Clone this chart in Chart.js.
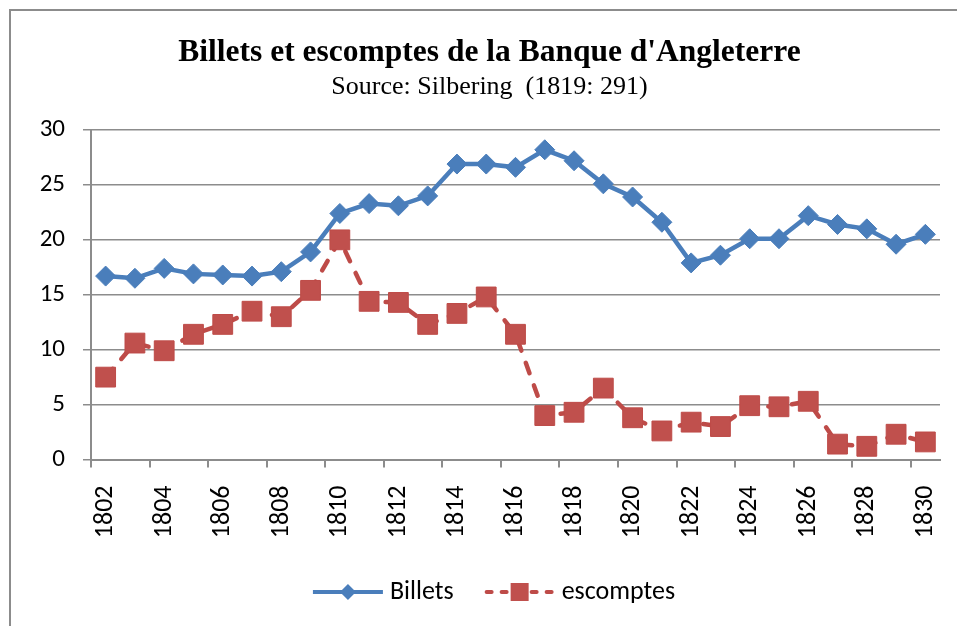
<!DOCTYPE html>
<html lang="fr">
<head>
<meta charset="utf-8">
<title>Billets et escomptes de la Banque d'Angleterre</title>
<script src="https://cdn.jsdelivr.net/npm/chart.js@4.4.1/dist/chart.umd.min.js"></script>
<style>
  html, body { margin: 0; padding: 0; background: #fff; overflow: hidden; }
  #cadre {
    position: absolute; left: 9px; top: 9px; width: 1000px; height: 700px;
    border-left: 2px solid #8c8c8c; border-top: 2px solid #8c8c8c;
  }
  #graphique { position: absolute; left: 0; top: 0; }
</style>
</head>
<body>
<div id="cadre"></div>
<canvas id="graphique" width="957" height="626"></canvas>
<script>
// Données (millions de livres)
const annees = ['1802', '1803', '1804', '1805', '1806', '1807', '1808', '1809', '1810', '1811',
                '1812', '1813', '1814', '1815', '1816', '1817', '1818', '1819', '1820', '1821',
                '1822', '1823', '1824', '1825', '1826', '1827', '1828', '1829', '1830'];

const billets = [16.7, 16.5, 17.4, 16.9, 16.8, 16.7, 17.1, 18.9, 22.4, 23.3,
                 23.1, 24.0, 26.9, 26.9, 26.6, 28.2, 27.2, 25.1, 23.9, 21.6,
                 17.9, 18.6, 20.1, 20.1, 22.2, 21.4, 21.0, 19.6, 20.5];

const escomptes = [7.5, 10.6, 9.9, 11.4, 12.3, 13.5, 13.0, 15.4, 20.0, 14.4,
                   14.3, 12.3, 13.3, 14.8, 11.4, 4.0, 4.3, 6.5, 3.8, 2.6,
                   3.4, 3.0, 4.9, 4.8, 5.3, 1.4, 1.2, 2.3, 1.6];

const etiquettesX = ['1802', '1804', '1806', '1808', '1810', '1812', '1814', '1816',
                     '1818', '1820', '1822', '1824', '1826', '1828', '1830'];
const graduationsY = [0, 5, 10, 15, 20, 25, 30];

const bleu = '#4A7EBB';
const rouge = '#BE4B48';
const gris = '#8c8c8c';
const policeTexte = 'Carlito, Lato, sans-serif';

// Légende dessinée à la main (trait + marqueur comme dans Excel)
const legendeMaison = {
    id: 'legendeMaison',
    afterDraw(chart) {
        const ctx = chart.ctx;
        const y = 592;
        const symbole = 70, ecart = 7, entre = 31;
        ctx.save();
        ctx.font = '26px ' + policeTexte;
        const items = chart.data.datasets.map(ds => ({ ds, w: ctx.measureText(ds.label).width }));
        const total = items.reduce((s, it) => s + symbole + ecart + it.w, 0) + entre * (items.length - 1);
        let x = 494 - total / 2;

        items.forEach(({ ds, w }) => {
            const cx = x + symbole / 2;
            ctx.strokeStyle = ds.borderColor;
            ctx.lineWidth = 4;
            if (ds.borderDash) {
                ctx.setLineDash([5, 10]);
                ctx.lineCap = 'round';
            } else {
                ctx.setLineDash([]);
                ctx.lineCap = 'butt';
            }
            ctx.beginPath();
            ctx.moveTo(x + (ds.borderDash ? 2 : 0), y);
            ctx.lineTo(x + symbole, y);
            ctx.stroke();
            ctx.setLineDash([]);

            ctx.fillStyle = ds.pointBackgroundColor;
            ctx.beginPath();
            if (ds.pointStyle === 'rectRot') {
                ctx.moveTo(cx - 8, y);
                ctx.lineTo(cx, y - 8);
                ctx.lineTo(cx + 8, y);
                ctx.lineTo(cx, y + 8);
                ctx.closePath();
            } else {
                ctx.rect(cx - 9, y - 9, 18, 18);
            }
            ctx.fill();

            ctx.fillStyle = '#000';
            ctx.textAlign = 'left';
            ctx.textBaseline = 'middle';
            ctx.fillText(ds.label, x + symbole + ecart, y);
            x += symbole + ecart + w + entre;
        });
        ctx.restore();
    }
};

const ctx = document.getElementById('graphique').getContext('2d');
new Chart(ctx, {
    type: 'line',
    data: {
        labels: annees,
        datasets: [{
            label: 'Billets',
            data: billets,
            borderColor: bleu,
            borderWidth: 4.5,
            pointStyle: 'rectRot',
            pointRadius: 10,
            pointBackgroundColor: '#4A7EBB',
            pointBorderColor: bleu,
            pointBorderWidth: 1,
            tension: 0,
            order: 1
        }, {
            label: 'escomptes',
            data: escomptes,
            borderColor: rouge,
            borderWidth: 4.5,
            borderDash: [11, 13],
            borderCapStyle: 'round',
            pointStyle: 'rect',
            pointRadius: 14,
            pointBackgroundColor: '#C0504D',
            pointBorderColor: rouge,
            pointBorderWidth: 1,
            tension: 0,
            order: 0
        }]
    },
    options: {
        responsive: false,
        animation: false,
        layout: { padding: { top: 12, left: 39, right: 17, bottom: 0 } },
        plugins: {
            legend: { display: false },
            tooltip: { enabled: false },
            title: {
                display: true,
                text: "Billets et escomptes de la Banque d'Angleterre",
                color: '#000',
                font: { family: '"Liberation Serif", serif', size: 31.5, weight: 'bold' },
                padding: { top: 22, bottom: 0 }
            },
            subtitle: {
                display: true,
                text: 'Source: Silbering  (1819: 291)',
                color: '#000',
                font: { family: '"Liberation Serif", serif', size: 26 },
                padding: { top: 0, bottom: 27 }
            }
        },
        scales: {
            x: {
                type: 'category',
                offset: true,
                grid: {
                    offset: true,
                    drawOnChartArea: false,
                    tickLength: 8,
                    lineWidth: 2,
                    color: c => (c.index % 2 === 0 ? gris : 'transparent')
                },
                border: { color: gris, width: 2 },
                ticks: {
                    autoSkip: false,
                    minRotation: 90,
                    maxRotation: 90,
                    padding: 18,
                    color: '#000',
                    font: { family: policeTexte, size: 26 },
                    callback(v, i) {
                        const a = annees[i];
                        return etiquettesX.includes(a) ? a : '';
                    }
                },
                afterFit(scale) {
                    scale.height = 166.5;
                    scale.paddingLeft = 0;
                    scale.paddingRight = 0;
                }
            },
            y: {
                min: graduationsY[0],
                max: graduationsY[graduationsY.length - 1],
                grid: { color: gris, lineWidth: 1.5, tickLength: 8 },
                border: { color: gris, width: 2 },
                ticks: {
                    stepSize: graduationsY[1] - graduationsY[0],
                    padding: 18,
                    color: '#000',
                    font: { family: policeTexte, size: 25 }
                },
                afterFit(scale) { scale.width = 52; }
            }
        }
    },
    plugins: [legendeMaison]
});
</script>
</body>
</html>
